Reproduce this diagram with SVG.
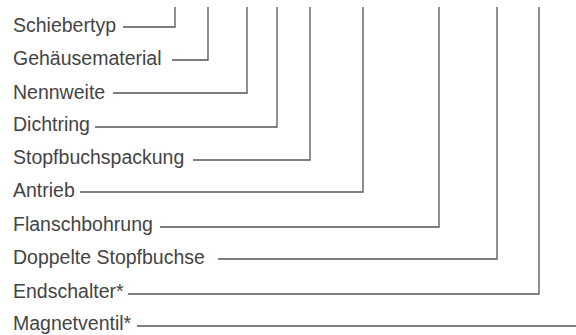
<svg xmlns="http://www.w3.org/2000/svg" width="576" height="335" viewBox="0 0 576 335">
<style>
text{font-family:"Liberation Sans",Arial,sans-serif;font-size:19.5px;fill:#444}
.c path{fill:none;stroke:#555;stroke-width:1.3}
</style>
<rect width="576" height="335" fill="#fff"/>
<g id="n1"><text x="13" y="32">Schiebertyp</text></g>
<g id="n2"><text x="13" y="65">Gehäusematerial</text></g>
<g id="n3"><text x="13" y="99">Nennweite</text></g>
<g id="n4"><text x="13" y="131">Dichtring</text></g>
<g id="n5"><text x="13" y="164">Stopfbuchspackung</text></g>
<g id="n6"><text x="13" y="197">Antrieb</text></g>
<g id="n7"><text x="13" y="231">Flanschbohrung</text></g>
<g id="n8"><text x="13" y="264">Doppelte Stopfbuchse</text></g>
<g id="n9"><text x="13" y="298">Endschalter*</text></g>
<g id="n10"><text x="13" y="330">Magnetventil*</text></g>
<g class="c" id="connectors">
<path d="M123 27H175V7"/>
<path d="M172 60H208V7"/>
<path d="M113 93H247V7"/>
<path d="M95 127H277V7"/>
<path d="M193 160H310V7"/>
<path d="M80 192H363V7"/>
<path d="M160 227H439V7"/>
<path d="M218 259H497V7"/>
<path d="M128 294H539V7"/>
<path d="M137 326H576"/>
</g>
</svg>
